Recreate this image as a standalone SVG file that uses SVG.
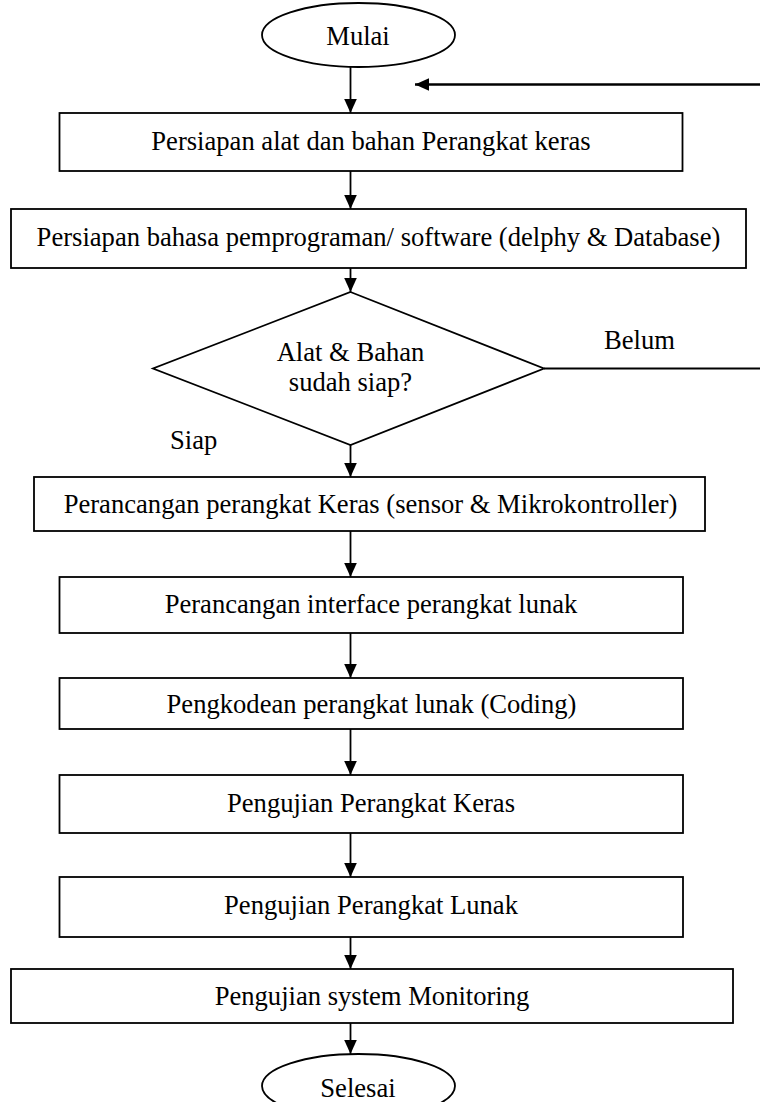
<svg xmlns="http://www.w3.org/2000/svg" width="760" height="1102" viewBox="0 0 760 1102">
<defs>
<style>
.s{fill:#fff;stroke:#000;stroke-width:1.8}
.t{font-family:"Liberation Serif","Times New Roman",serif;font-size:26.6px;fill:#000;text-anchor:middle}
.l{font-family:"Liberation Serif","Times New Roman",serif;font-size:26.6px;fill:#000}
.c{fill:none;stroke:#000;stroke-width:1.8}
.f{fill:none;stroke:#000;stroke-width:2.4}
</style>
<marker id="ah" viewBox="0 0 10 10" refX="10" refY="5" markerUnits="userSpaceOnUse" markerWidth="14" markerHeight="14" orient="auto">
<path d="M0,0.5 L10,5 L0,9.5 Z" fill="#000"/>
</marker>
</defs>
<rect width="760" height="1102" fill="#fff"/>
<g id="connectors">
<line class="c" x1="350.5" y1="67" x2="350.5" y2="113" marker-end="url(#ah)"/>
<line class="c" x1="350.5" y1="171" x2="350.5" y2="209" marker-end="url(#ah)"/>
<line class="c" x1="350.5" y1="268" x2="350.5" y2="292" marker-end="url(#ah)"/>
<line class="c" x1="350.5" y1="445" x2="350.5" y2="477" marker-end="url(#ah)"/>
<line class="c" x1="350.5" y1="531" x2="350.5" y2="577" marker-end="url(#ah)"/>
<line class="c" x1="350.5" y1="633" x2="350.5" y2="678" marker-end="url(#ah)"/>
<line class="c" x1="350.5" y1="729" x2="350.5" y2="775" marker-end="url(#ah)"/>
<line class="c" x1="350.5" y1="833" x2="350.5" y2="877" marker-end="url(#ah)"/>
<line class="c" x1="350.5" y1="937" x2="350.5" y2="969" marker-end="url(#ah)"/>
<line class="c" x1="350.5" y1="1023" x2="350.5" y2="1054" marker-end="url(#ah)"/>
<line class="c" x1="544" y1="368.5" x2="762" y2="368.5"/>
<line class="f" x1="762" y1="84.5" x2="415" y2="84.5" marker-end="url(#ah)"/>
<text class="l" x="604" y="349">Belum</text>
<text class="l" x="170" y="449">Siap</text>
</g>
<g id="mulai">
<ellipse class="s" cx="358.5" cy="35" rx="96.5" ry="32"/>
<text class="t" x="358" y="45">Mulai</text>
</g>
<g id="persiapan-alat">
<rect class="s" x="59.5" y="113" width="623" height="58"/>
<text class="t" x="371" y="149.5">Persiapan alat dan bahan Perangkat keras</text>
</g>
<g id="persiapan-bahasa">
<rect class="s" x="11" y="209" width="735" height="59"/>
<text class="t" x="378.5" y="246">Persiapan bahasa pemprograman/ software (delphy &amp; Database)</text>
</g>
<g id="keputusan">
<polygon class="s" points="350.5,292 544,368.5 350.5,445 153,368.5"/>
<text class="t" x="350.5" y="361">Alat &amp; Bahan</text>
<text class="t" x="350.5" y="391">sudah siap?</text>
</g>
<g id="perancangan-keras">
<rect class="s" x="34" y="477" width="671" height="54"/>
<text class="t" x="370.5" y="513">Perancangan perangkat Keras (sensor &amp; Mikrokontroller)</text>
</g>
<g id="perancangan-interface">
<rect class="s" x="59.5" y="577" width="623.5" height="56"/>
<text class="t" x="371" y="613">Perancangan interface perangkat lunak</text>
</g>
<g id="pengkodean">
<rect class="s" x="59.5" y="678" width="623.5" height="51"/>
<text class="t" x="371.5" y="713">Pengkodean perangkat lunak (Coding)</text>
</g>
<g id="uji-keras">
<rect class="s" x="59.5" y="775" width="623.5" height="58"/>
<text class="t" x="371" y="812">Pengujian Perangkat Keras</text>
</g>
<g id="uji-lunak">
<rect class="s" x="59.5" y="877" width="623.5" height="60"/>
<text class="t" x="371" y="914">Pengujian Perangkat Lunak</text>
</g>
<g id="uji-sistem">
<rect class="s" x="11" y="969" width="722" height="54"/>
<text class="t" x="372" y="1005">Pengujian system Monitoring</text>
</g>
<g id="selesai">
<ellipse class="s" cx="358.5" cy="1086" rx="96.5" ry="32"/>
<text class="t" x="358" y="1097">Selesai</text>
</g>
</svg>
